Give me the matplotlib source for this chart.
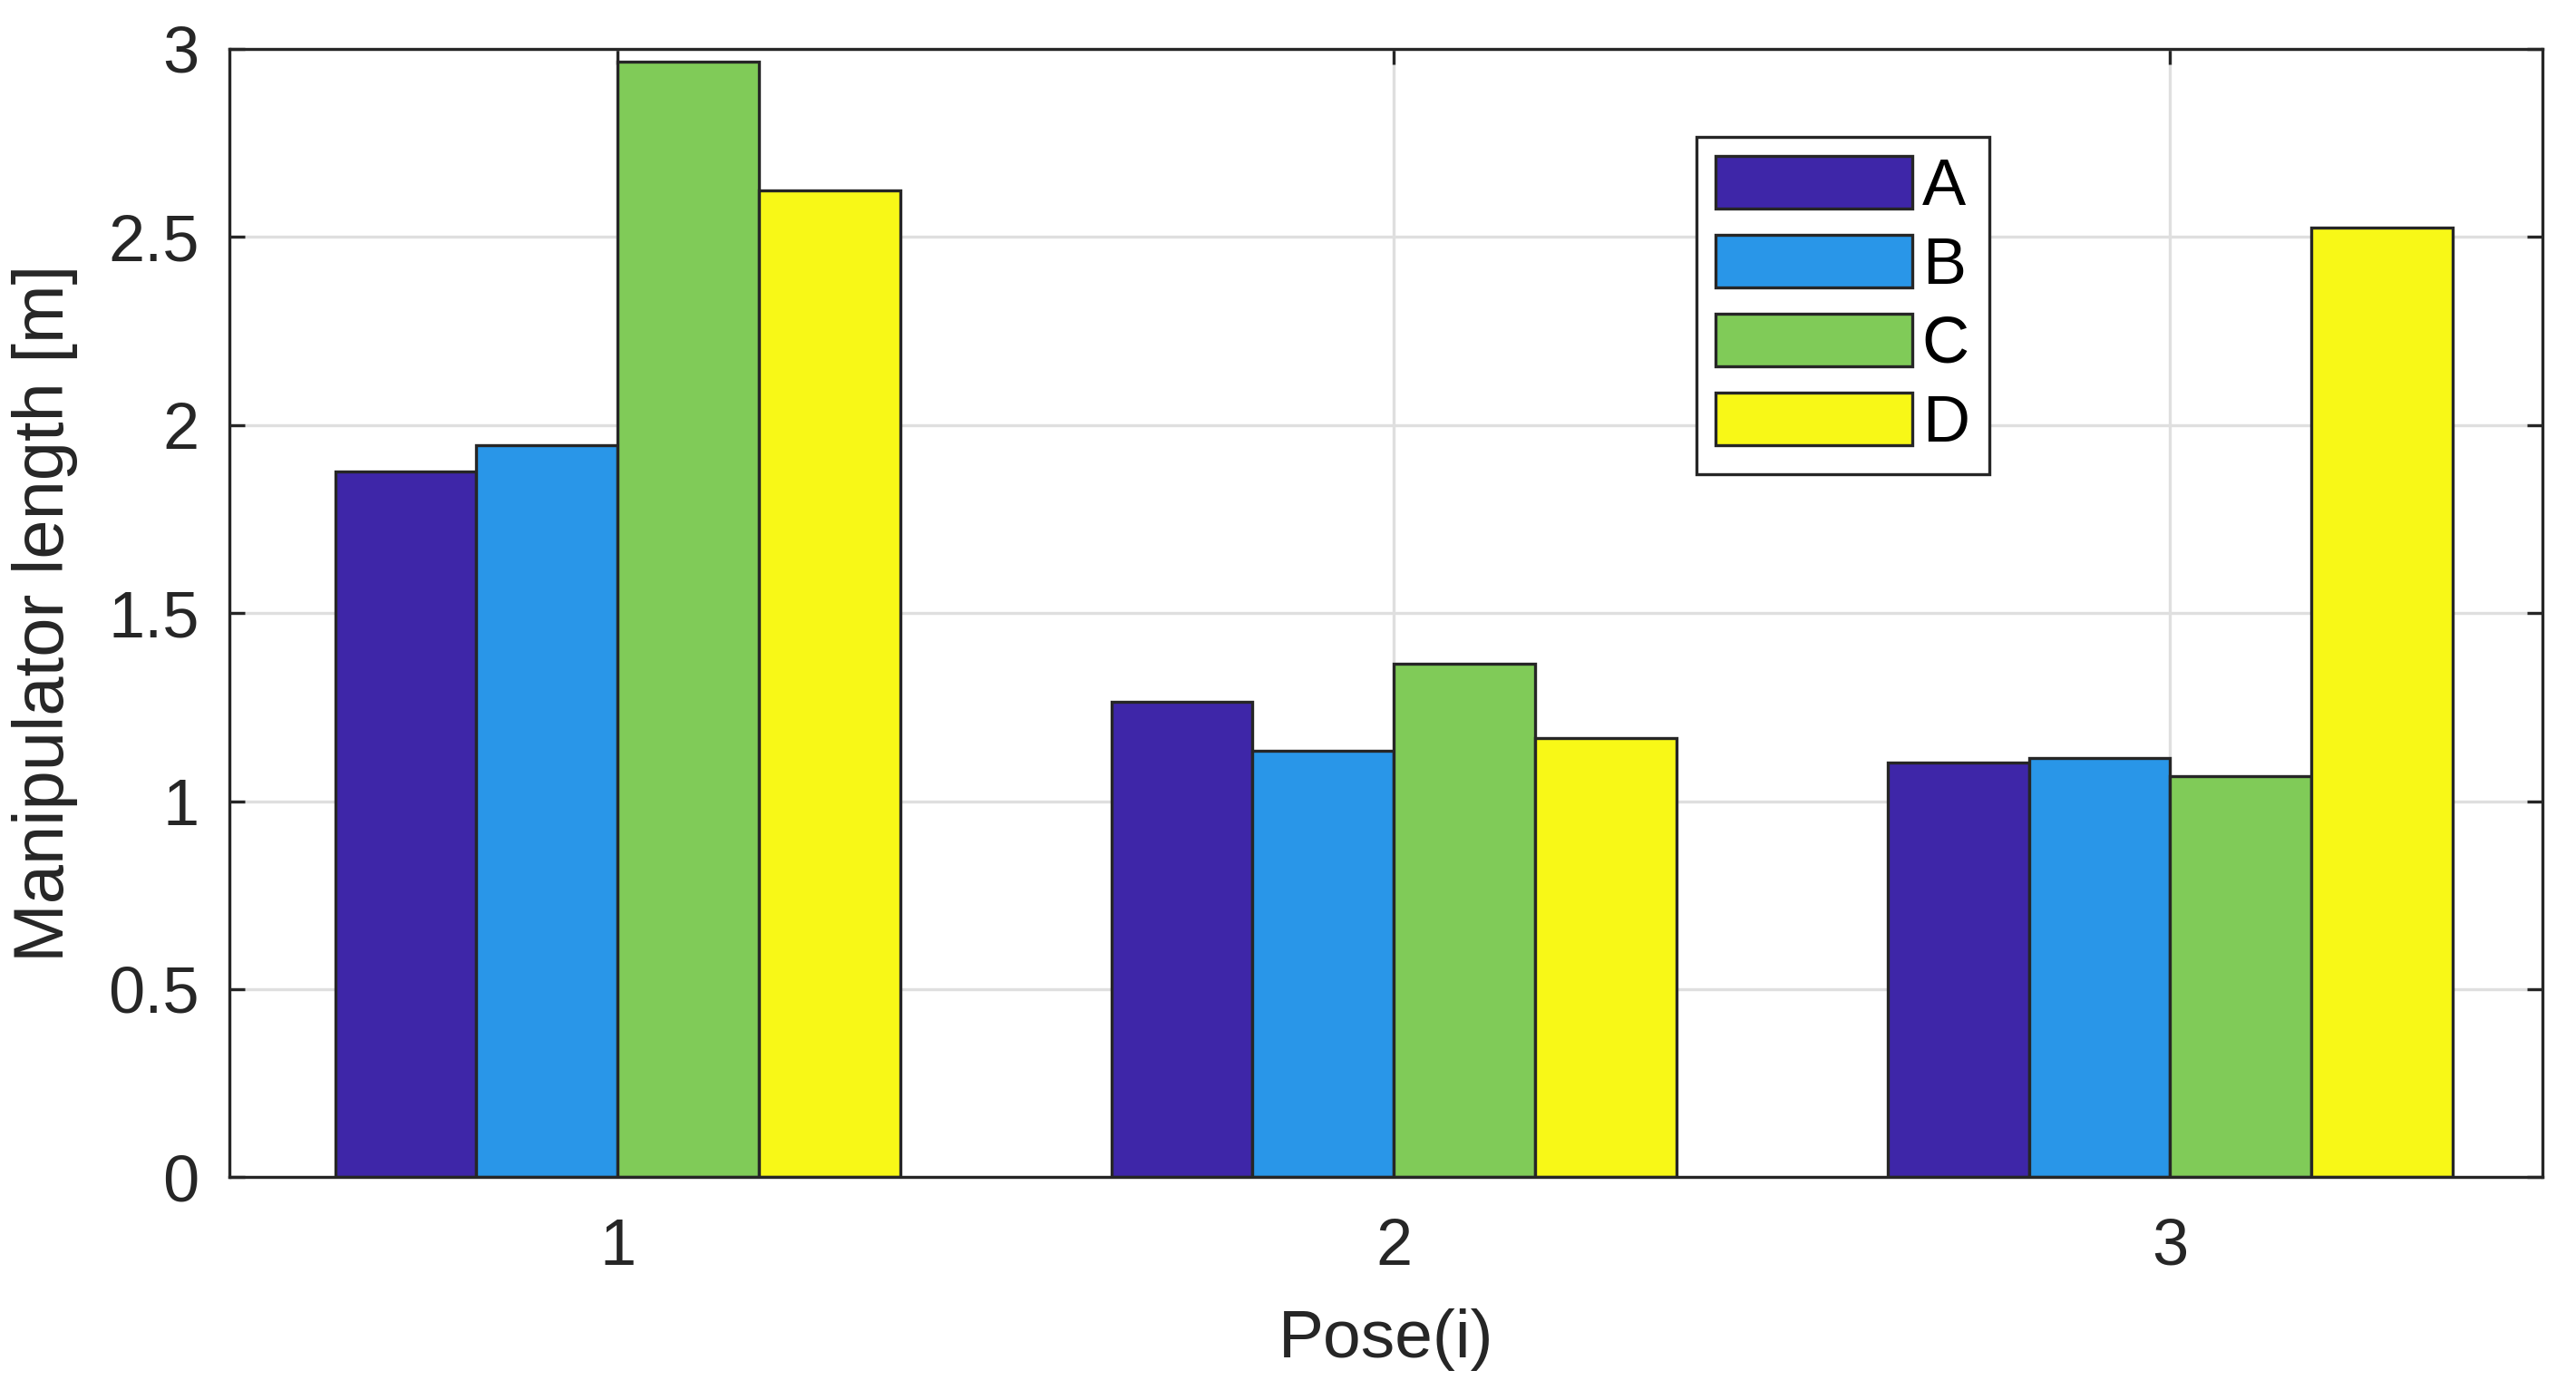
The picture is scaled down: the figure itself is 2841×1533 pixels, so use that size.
import numpy as np
import matplotlib.pyplot as plt

plt.rcParams['font.family'] = ['Liberation Sans', 'DejaVu Sans']

poses = [1, 2, 3]
labels = ['A', 'B', 'C', 'D']
A = [1.875, 1.265, 1.102]
B = [1.946, 1.133, 1.115]
C = [2.965, 1.366, 1.067]
D = [2.622, 1.168, 2.525]
colors = ['#3E26A8', '#2996E8', '#80CB58', '#F8F817']

fig = plt.figure(figsize=(14.205, 7.665), dpi=200)
ax = fig.add_axes([0.0891, 0.153, 0.898, 0.812])

x = np.array(poses)
w = 0.182
for i, (vals, lab) in enumerate(zip([A, B, C, D], labels)):
    ax.bar(x + (i - 1.5) * w, vals, width=w, color=colors[i],
           edgecolor='#262626', linewidth=1.2, label=lab, zorder=2)

ax.set_xlim(0.5, 3.48)
ax.set_ylim(0, 3)
ax.set_xticks(poses)
ax.set_yticks(np.arange(0, 3.01, 0.5))
ax.set_yticklabels(['0', '0.5', '1', '1.5', '2', '2.5', '3'])
ax.grid(True, color='#DFDFDF', linewidth=1.2)
ax.set_axisbelow(True)
ax.tick_params(direction='in', length=6, width=1.2, top=True, right=True,
               labelsize=26, colors='#262626')
ax.tick_params(axis='y', pad=12)
ax.tick_params(axis='x', pad=16)
for s in ax.spines.values():
    s.set_color('#262626')
    s.set_linewidth(1.2)

ax.set_xlabel('Pose(i)', fontsize=27, color='#262626', labelpad=12)
ax.set_ylabel('Manipulator length [m]', fontsize=28, color='#262626', labelpad=12)

leg = ax.legend(loc='upper left', bbox_to_anchor=(0.634, 0.922), fontsize=26,
                handlelength=3.0, handleheight=0.85, labelspacing=0.25,
                handletextpad=0.15, borderpad=0.3, borderaxespad=0,
                fancybox=False, framealpha=1)
leg.get_frame().set_edgecolor('#262626')
leg.get_frame().set_linewidth(1.2)
for t in leg.get_texts():
    t.set_color('black')

fig.savefig('out.png', dpi=200, facecolor='white')
